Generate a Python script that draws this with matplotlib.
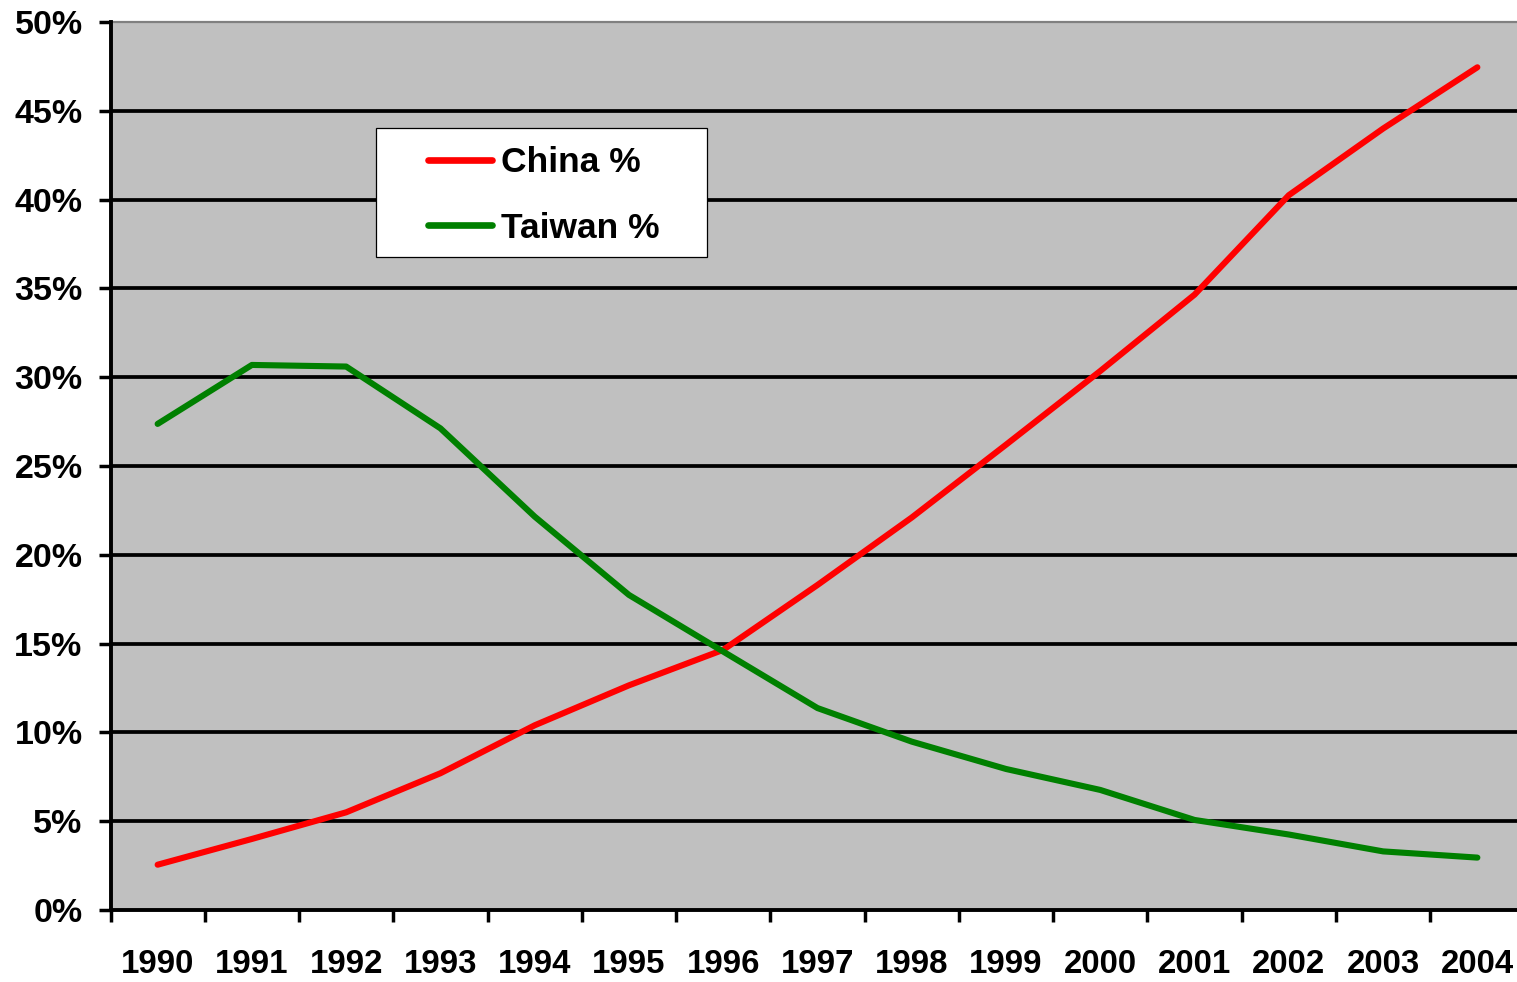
import matplotlib
matplotlib.use("Agg")
import matplotlib.pyplot as plt
from matplotlib.patches import Rectangle
import numpy as np

years = ["1990", "1991", "1992", "1993", "1994", "1995", "1996", "1997",
         "1998", "1999", "2000", "2001", "2002", "2003", "2004"]
china_pct = [2.55, 4.0, 5.5, 7.7, 10.4, 12.65, 14.65, 18.3, 22.1, 26.2, 30.35,
             34.65, 40.25, 44.0, 47.45]
taiwan_pct = [27.37, 30.69, 30.6, 27.12, 22.15, 17.74, 14.55, 11.37, 9.48,
              7.94, 6.76, 5.07, 4.25, 3.3, 2.95]
y_ticks = [0, 5, 10, 15, 20, 25, 30, 35, 40, 45, 50]
y_ticklabels = [f"{v}%" for v in y_ticks]

plt.rcParams["font.family"] = ["Liberation Sans", "DejaVu Sans"]
plt.rcParams["font.weight"] = "bold"

W, H = 1517, 982
fig = plt.figure(figsize=(W / 100, H / 100), dpi=100)
left, right, top, bottom = 110.5, 1524.5, 22, 910
ax = fig.add_axes([left / W, (H - bottom) / H, (right - left) / W, (bottom - top) / H])
ax.set_facecolor("#C0C0C0")

x = np.arange(len(years)) + 0.5
ax.plot(x, china_pct, color="#FF0000", lw=4.4, solid_capstyle="round",
        solid_joinstyle="round", label="China %", zorder=3)
ax.plot(x, taiwan_pct, color="#008000", lw=4.4, solid_capstyle="round",
        solid_joinstyle="round", label="Taiwan %", zorder=3)

ax.set_xlim(0, len(years))
ax.set_ylim(0, 50)

# horizontal grid lines between the bottom axis and the top border
for v in y_ticks[1:-1]:
    ax.axhline(v, color="black", lw=2.7, zorder=1)

ax.set_yticks(y_ticks)
ax.set_yticklabels(y_ticklabels)
ax.tick_params(axis="y", length=8.6, width=2.5, pad=11.5, labelsize=24.5,
               direction="out", colors="black")

ax.set_xticks(np.arange(len(years) + 1))
ax.set_xticklabels([])
ax.set_xticks(x, minor=True)
ax.set_xticklabels(years, minor=True)
ax.tick_params(axis="x", which="major", length=8.6, width=2.5, direction="out")
ax.tick_params(axis="x", which="minor", length=0, pad=28, labelsize=23.8)
for lab in ax.get_xticklabels(minor=True) + ax.get_yticklabels():
    lab.set_fontweight("bold")

for s in ("left", "bottom"):
    ax.spines[s].set_linewidth(2.8)
    ax.spines[s].set_color("black")
    ax.spines[s].set_zorder(4)
ax.spines["top"].set_color("#808080")
ax.spines["top"].set_linewidth(1.6)
ax.spines["right"].set_visible(False)

# legend box
bx0 = (376 - left) / (right - left)
by0 = (bottom - 257) / (bottom - top)
bw = (707 - 376) / (right - left)
bh = (257 - 128) / (bottom - top)
ax.add_patch(Rectangle((bx0, by0), bw, bh, transform=ax.transAxes,
                       facecolor="white", edgecolor="black", lw=0.9, zorder=4.5))

lx = (428 - left) / (right - left)
ly = (bottom - 146) / (bottom - top)
leg = ax.legend(loc="upper left", bbox_to_anchor=(lx, ly), frameon=False,
                borderpad=0, borderaxespad=0, fontsize=25.5, handlelength=1.8,
                handletextpad=0.25, labelspacing=0.92)
leg.set_zorder(5)
for t in leg.get_texts():
    t.set_fontweight("bold")
for h in leg.get_lines():
    h.set_linewidth(4.8)
    h.set_solid_capstyle("round")

fig.savefig("out.png", dpi=100)
